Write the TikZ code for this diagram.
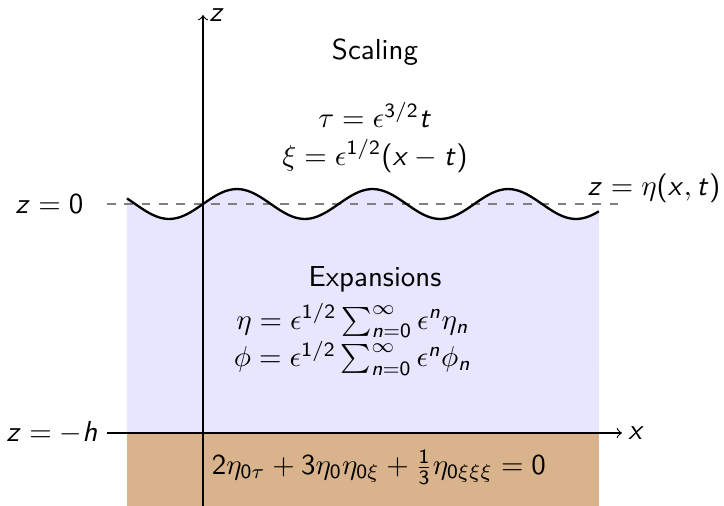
\documentclass[tikz,border=0pt]{standalone}
\usetikzlibrary{positioning}
\definecolor{waterBlue}{HTML}{E6E6FF}
\definecolor{sandBrown}{HTML}{D9B38C}
% letras y cifras de la matematica en sans (estilo beamer)
\DeclareSymbolFont{operators}{OT1}{cmss}{m}{n}
\DeclareSymbolFont{sfletters}{OT1}{cmss}{m}{sl}
\DeclareMathSymbol{x}{\mathalpha}{sfletters}{`x}
\DeclareMathSymbol{z}{\mathalpha}{sfletters}{`z}
\DeclareMathSymbol{t}{\mathalpha}{sfletters}{`t}
\DeclareMathSymbol{h}{\mathalpha}{sfletters}{`h}
\DeclareMathSymbol{n}{\mathalpha}{sfletters}{`n}

\begin{document}
\begin{tikzpicture}[font=\sffamily]
        \useasboundingbox (-2.470,-0.888) rectangle (6.338,5.268);
        % agua y fondo
        \fill[waterBlue] (-0.925,0) -- plot[domain=-0.925:4.818,samples=150] (\x,{2.786+0.182*sin(360*\x/1.650)}) -- (4.818,0) -- cycle;
        \fill[sandBrown] (-0.925,-0.888) rectangle (4.818,0);
        % nivel en reposo y superficie
        \coordinate (restL) at (-1.168,2.786); \coordinate (restR) at (5.073,2.786);
        \draw[dashed,gray] (restL)--(restR);
        \draw[thick] plot[domain=-0.925:4.818,samples=150] (\x,{2.786+0.182*sin(360*\x/1.650)});
        % ejes
        \coordinate (zBot) at (0,-0.888); \coordinate (zTop) at (0,5.085);
        \coordinate (xL) at (-1.168,0); \coordinate (xR) at (5.097,0);
        \draw[->] (zBot)--(zTop); \draw[->] (xL)--(xR);
        \node[right,inner sep=2pt] (zLab) at (zTop) {$z$};
        \node[right,inner sep=2pt] (xLab) at (xR) {$x$};
        \node[left=8pt of restL,inner sep=0pt] (restLab) {$z=0$};
        \node[left,inner sep=3pt] (bedLab) at (xL) {$z=-h$};
        \node (surfLab) at (5.487,2.98) {$z=\eta(x,t)$};
        % textos
        \node (scaling) at (2.092,4.635) {Scaling};
        \node[align=center] (scalEq) at (2.092,3.60) {$\tau=\epsilon^{3/2}t$\\[1pt]$\xi=\epsilon^{1/2}(x-t)$};
        \node (expans) at (2.092,1.874) {Expansions};
        \node[align=center] (expEq) at (1.82,1.14) {$\eta=\epsilon^{1/2}\sum_{n=0}^\infty\epsilon^n\eta_n$\\[1pt]$\phi=\epsilon^{1/2}\sum_{n=0}^\infty\epsilon^n\phi_n$};
        \node (kdv) at (2.14,-0.414) {$2\eta_{0\tau}+3\eta_0\eta_{0\xi}+\frac{1}{3}\eta_{0\xi\xi\xi}=0$};
      \end{tikzpicture}
\end{document}
